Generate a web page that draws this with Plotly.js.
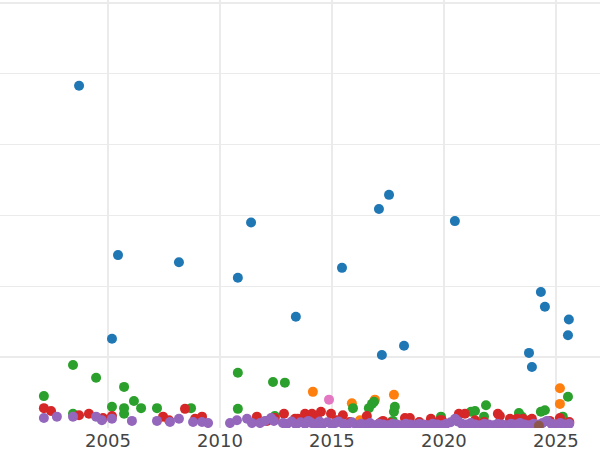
<!DOCTYPE html>
<html>
<head>
<meta charset="utf-8">
<script src="https://cdn.plot.ly/plotly-3.0.1.min.js"></script>
<style>html,body{margin:0;padding:0;background:#fff;}#chart{width:600px;height:450px;}</style>
</head>
<body>
<div id="chart"></div>
<script>
// Series data (year, value)
const blueX = [2003.71, 2005.18, 2005.45, 2008.17, 2010.80, 2011.39, 2013.39, 2015.45, 2017.10, 2017.23, 2017.55, 2018.22, 2020.49, 2023.80, 2023.93, 2024.33, 2024.51, 2025.54, 2025.58];
const blueY = [48.3, 12.6, 24.4, 23.4, 21.2, 29.0, 15.7, 22.6, 30.9, 10.3, 32.9, 11.6, 29.2, 10.6, 8.6, 19.2, 17.1, 13.1, 15.3];

const orangeX = [2014.15, 2015.89, 2016.25, 2016.92, 2017.77, 2025.18, 2025.18];
const orangeY = [5.1, 3.5, 1.1, 4.0, 4.7, 5.6, 3.4];

const greenX = [2002.14, 2003.44, 2003.44, 2004.47, 2005.18, 2005.72, 2005.72, 2005.72, 2006.16, 2006.48, 2007.19, 2008.71, 2010.80, 2010.80, 2012.37, 2012.90, 2012.45, 2015.94, 2016.65, 2016.79, 2016.88, 2017.72, 2017.77, 2017.81, 2019.87, 2021.21, 2021.39, 2021.88, 2021.79, 2023.35, 2023.48, 2024.33, 2024.51, 2025.54, 2025.31];
const greenY = [4.5, 8.9, 2.0, 7.1, 3.0, 5.8, 2.8, 2.0, 3.8, 2.8, 2.8, 2.8, 7.8, 2.7, 6.5, 6.4, 1.7, 2.8, 2.8, 3.4, 3.7, 1.0, 2.3, 3.0, 1.6, 2.3, 2.4, 3.2, 1.6, 2.1, 1.6, 2.3, 2.5, 4.4, 1.6];

const redX = [2002.14, 2002.46, 2003.71, 2004.15, 2004.78, 2005.18, 2007.46, 2007.73, 2008.44, 2008.89, 2009.20, 2011.65, 2012.10, 2012.45, 2012.86, 2013.35, 2013.48, 2013.71, 2013.80, 2014.02, 2014.11, 2014.33, 2014.51, 2014.96, 2015.22, 2015.49, 2015.80, 2016.56, 2017.14, 2017.28, 2017.60, 2018.26, 2018.48, 2018.90, 2019.42, 2019.82, 2019.91, 2020.67, 2020.94, 2021.39, 2021.80, 2022.41, 2022.50, 2022.95, 2023.26, 2023.53, 2023.71, 2023.84, 2023.93, 2024.73, 2025.18, 2025.60];
const redY = [2.8, 2.4, 1.8, 2.0, 1.4, 1.7, 1.6, 1.1, 2.7, 1.3, 1.6, 1.6, 1.0, 1.4, 2.0, 1.3, 1.3, 1.3, 2.0, 1.7, 2.0, 1.4, 2.3, 2.0, 1.1, 1.8, 0.85, 1.7, 0.7, 1.0, 0.7, 1.4, 1.4, 0.85, 1.3, 1.1, 1.1, 2.0, 2.0, 1.1, 0.85, 2.0, 1.7, 1.3, 1.3, 1.3, 1.0, 1.1, 1.3, 1.0, 1.4, 0.85];

const purpleX = [2002.14, 2002.72, 2003.44, 2004.47, 2004.73, 2005.18, 2006.07, 2007.19, 2007.77, 2008.17, 2008.80, 2009.20, 2009.47, 2010.45, 2010.76, 2011.21, 2011.43, 2011.79, 2012.01, 2012.28, 2012.41, 2012.81,
  2013.0, 2013.2, 2013.4, 2013.6, 2013.8, 2013.95, 2014.1, 2014.3, 2014.45, 2014.6, 2014.8, 2015.0, 2015.15, 2015.3, 2015.5, 2015.7, 2015.9, 2016.1, 2016.3, 2016.5, 2016.7, 2016.9, 2017.1, 2017.3, 2017.5, 2017.7, 2017.9, 2018.1, 2018.3, 2018.5, 2018.7, 2018.9, 2019.1, 2019.3, 2019.5, 2019.7, 2019.9, 2020.1, 2020.3, 2020.5, 2020.65, 2020.8, 2021.0, 2021.2, 2021.4, 2021.6, 2021.8, 2022.0, 2022.2, 2022.4, 2022.6, 2022.8, 2023.0, 2023.2, 2023.4, 2023.6, 2023.8, 2024.0, 2024.2, 2024.4, 2024.6, 2024.8, 2025.0, 2025.2, 2025.4, 2025.6];
const purpleY = [1.4, 1.6, 1.6, 1.6, 1.1, 1.3, 1.0, 1.0, 0.85, 1.3, 0.85, 0.85, 0.7, 0.7, 1.1, 1.3, 0.7, 0.7, 1.0, 1.4, 1.0, 0.7,
  0.6, 0.9, 0.5, 0.8, 0.6, 1.0, 0.7, 0.5, 0.9, 0.6, 0.8, 0.5, 0.7, 0.9, 0.6, 0.5, 0.8, 0.4, 0.6, 0.5, 0.7, 0.4, 0.6, 0.5, 0.4, 0.6, 0.5, 0.4, 0.6, 0.5, 0.4, 0.6, 0.5, 0.4, 0.6, 0.5, 0.4, 0.6, 0.8, 1.3, 0.9, 0.6, 0.5, 0.7, 0.5, 0.4, 0.6, 0.5, 0.4, 0.6, 0.5, 0.4, 0.6, 0.5, 0.7, 0.5, 0.4, 0.6, 0.5, 0.7, 1.0, 0.6, 0.5, 0.7, 0.5, 0.6];

const brownX = [2024.24];
const brownY = [0.3];

const pinkX = [2014.87];
const pinkY = [4.0];

const xTicks = [2005, 2010, 2015, 2020, 2025];

const series = [
  {x: blueX, y: blueY, color: '#1f77b4'},
  {x: orangeX, y: orangeY, color: '#ff7f0e'},
  {x: greenX, y: greenY, color: '#2ca02c'},
  {x: redX, y: redY, color: '#d62728'},
  {x: purpleX, y: purpleY, color: '#9467bd'},
  {x: brownX, y: brownY, color: '#8c564b'},
  {x: pinkX, y: pinkY, color: '#e377c2'}
];

const traces = series.map(s => ({
  type: 'scatter', mode: 'markers', x: s.x, y: s.y,
  marker: {color: s.color, size: 10, line: {width: 0}},
  hoverinfo: 'x+y'
}));

const layout = {
  width: 600, height: 450,
  margin: {l: 0, r: 0, t: 0, b: 22, pad: 0},
  paper_bgcolor: '#ffffff', plot_bgcolor: '#ffffff',
  showlegend: false,
  font: {family: 'DejaVu Sans', size: 18, color: '#444'},
  xaxis: {
    range: [2000.18, 2026.97], tickvals: xTicks, ticktext: xTicks.map(String),
    showgrid: true, gridcolor: '#ebebeb', gridwidth: 1.5,
    zeroline: false, showline: false, ticks: '', automargin: false,
    tickfont: {family: 'DejaVu Sans', size: 18, color: '#444'}
  },
  yaxis: {
    range: [0, 60.4], dtick: 10, tick0: 0,
    showgrid: true, gridcolor: '#ebebeb', gridwidth: 1.5,
    zeroline: false, showline: false, showticklabels: false, ticks: '', automargin: false
  }
};

Plotly.newPlot('chart', traces, layout, {displayModeBar: false, staticPlot: true});
</script>
</body>
</html>
